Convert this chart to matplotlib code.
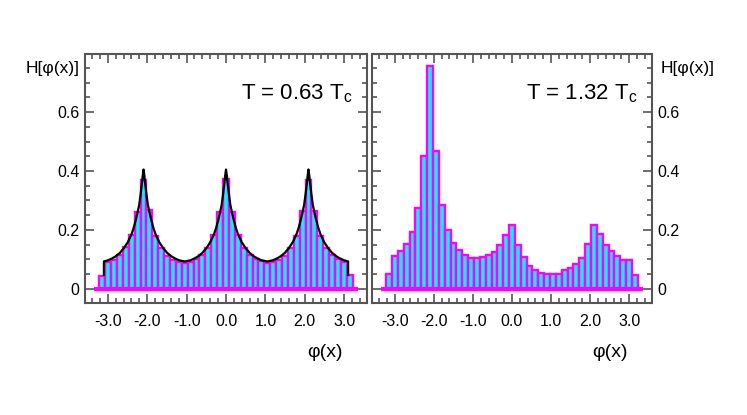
import numpy as np
import matplotlib.pyplot as plt
from matplotlib import font_manager
from matplotlib.ticker import MultipleLocator

# histogram bins: centres at k * pi/21, k = -21..21
bin_k = np.arange(-21, 22)
bin_width = np.pi / 21

# T = 0.63 Tc
h_low = [0.045, 0.092, 0.099, 0.114, 0.141, 0.183, 0.260, 0.370, 0.266, 0.178,
         0.139, 0.113, 0.099, 0.091, 0.088, 0.092, 0.100, 0.116, 0.140, 0.182,
         0.262, 0.372, 0.262, 0.183, 0.140, 0.115, 0.101, 0.093, 0.088, 0.090,
         0.098, 0.112, 0.139, 0.180, 0.263, 0.371, 0.264, 0.181, 0.140, 0.114,
         0.100, 0.092, 0.046]

# T = 1.32 Tc
h_high = [0.050, 0.113, 0.129, 0.151, 0.194, 0.276, 0.452, 0.756, 0.469, 0.285,
          0.199, 0.154, 0.131, 0.114, 0.106, 0.104, 0.107, 0.115, 0.126, 0.149,
          0.183, 0.217, 0.149, 0.107, 0.078, 0.064, 0.055, 0.050, 0.050, 0.052,
          0.064, 0.070, 0.085, 0.106, 0.151, 0.217, 0.185, 0.149, 0.129, 0.112,
          0.098, 0.098, 0.047]

# theory curve for the low temperature panel
curve_x = [-3.10, -3.10, -2.994, -2.894, -2.794, -2.694, -2.594, -2.494, -2.394,
           -2.344, -2.294, -2.244, -2.204, -2.169, -2.134, -2.114, -2.094,
           -2.074, -2.054, -2.019, -1.984, -1.944, -1.894, -1.844, -1.794,
           -1.694, -1.594, -1.494, -1.394, -1.294, -1.194, -1.094, -1.047,
           -1.0, -0.9, -0.8, -0.7, -0.6, -0.5, -0.4, -0.3, -0.25, -0.2, -0.15,
           -0.11, -0.075, -0.04, -0.02, 0.0,
           0.02, 0.04, 0.075, 0.11, 0.15, 0.2, 0.25, 0.3, 0.4, 0.5, 0.6, 0.7,
           0.8, 0.9, 1.0, 1.047,
           1.094, 1.194, 1.294, 1.394, 1.494, 1.594, 1.694, 1.794, 1.844,
           1.894, 1.944, 1.984, 2.019, 2.054, 2.074, 2.094,
           2.114, 2.134, 2.169, 2.204, 2.244, 2.294, 2.344, 2.394, 2.494,
           2.594, 2.694, 2.794, 2.894, 2.994, 3.10, 3.10]
curve_y = [0.047, 0.093, 0.097, 0.103, 0.111, 0.122, 0.138, 0.158, 0.187,
           0.207, 0.232, 0.260, 0.285, 0.320, 0.360, 0.385, 0.405,
           0.385, 0.360, 0.320, 0.285, 0.260, 0.232, 0.207, 0.187,
           0.158, 0.138, 0.122, 0.111, 0.103, 0.097, 0.094, 0.093,
           0.094, 0.097, 0.103, 0.111, 0.122, 0.138, 0.158, 0.187, 0.207,
           0.232, 0.260, 0.285, 0.320, 0.360, 0.385, 0.405,
           0.385, 0.360, 0.320, 0.285, 0.260, 0.232, 0.207, 0.187, 0.158,
           0.138, 0.122, 0.111, 0.103, 0.097, 0.094, 0.093,
           0.094, 0.097, 0.103, 0.111, 0.122, 0.138, 0.158, 0.187, 0.207,
           0.232, 0.260, 0.285, 0.320, 0.360, 0.385, 0.405,
           0.385, 0.360, 0.320, 0.285, 0.260, 0.232, 0.207, 0.187, 0.158,
           0.138, 0.122, 0.111, 0.103, 0.097, 0.093, 0.047]

base_span = [-3.35, 3.35]

xtick_vals = [-3, -2, -1, 0, 1, 2, 3]
xtick_labels = ['-3.0', '-2.0', '-1.0', '0.0', '1.0', '2.0', '3.0']
ytick_vals = [0, 0.2, 0.4, 0.6]
ytick_labels = ['0', '0.2', '0.4', '0.6']

# narrow font if we have it
installed = {f.name for f in font_manager.fontManager.ttflist}
fam = 'Liberation Sans Narrow' if 'Liberation Sans Narrow' in installed else 'Liberation Sans'
plt.rcParams['font.family'] = [fam, 'DejaVu Sans']
plt.rcParams['mathtext.fontset'] = 'custom'
plt.rcParams['mathtext.rm'] = fam
plt.rcParams['mathtext.it'] = fam
plt.rcParams['axes.unicode_minus'] = False

CYAN = '#12EEFF'
MAGENTA = '#FF00FF'
FRAME = '#555555'

fig = plt.figure(figsize=(7.47, 4.15), dpi=100)
ax1 = fig.add_axes([0.1138, 0.2699, 0.3775, 0.60])
ax2 = fig.add_axes([0.4980, 0.2699, 0.3748, 0.60])

centers = bin_k * bin_width

for ax, h in ((ax1, h_low), (ax2, h_high)):
    ax.bar(centers, h, width=bin_width, color=CYAN, edgecolor=MAGENTA,
           linewidth=1.7, zorder=2)
    ax.plot(base_span, [0, 0], color=MAGENTA, lw=3, solid_capstyle='butt', zorder=3)
    ax.set_xlim(-3.58, 3.58)
    ax.set_ylim(-0.048, 0.797)
    ax.set_xticks(xtick_vals)
    ax.set_xticklabels(xtick_labels)
    ax.set_yticks(ytick_vals)
    ax.set_yticklabels(ytick_labels)
    ax.xaxis.set_minor_locator(MultipleLocator(0.2))
    ax.yaxis.set_minor_locator(MultipleLocator(0.05))
    ax.tick_params(which='both', direction='in', top=True, right=True,
                   color=FRAME, width=1.2, labelsize=11.5)
    ax.tick_params(which='major', length=6.5)
    ax.tick_params(which='minor', length=3.5)
    ax.tick_params(axis='x', pad=8)
    ax.tick_params(axis='y', pad=4)
    for sp in ax.spines.values():
        sp.set_color(FRAME)
        sp.set_linewidth(1.5)
    ax.text(0.85, -0.20, 'φ(x)', transform=ax.transAxes, fontsize=14,
            ha='center', va='center')

ax1.plot(curve_x, curve_y, color='black', lw=1.6, zorder=4)

ax2.tick_params(axis='y', labelleft=False, labelright=True)

ax1.text(-0.02, 0.94, 'H[φ(x)]', transform=ax1.transAxes, fontsize=12.5,
         ha='right', va='center')
ax2.text(1.03, 0.94, 'H[φ(x)]', transform=ax2.transAxes, fontsize=12.5,
         ha='left', va='center')

ax1.text(0.95, 0.84, r'T = 0.63 T$_{\mathrm{c}}$', transform=ax1.transAxes,
         fontsize=16, ha='right', va='center')
ax2.text(0.95, 0.84, r'T = 1.32 T$_{\mathrm{c}}$', transform=ax2.transAxes,
         fontsize=16, ha='right', va='center')

fig.savefig('out.png', dpi=100)
